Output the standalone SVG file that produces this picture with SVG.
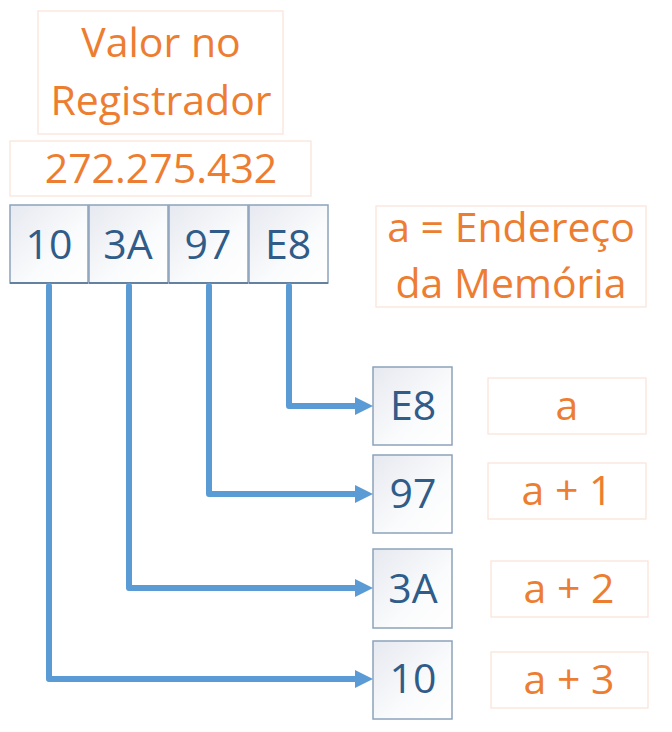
<svg xmlns="http://www.w3.org/2000/svg" width="672" height="732" viewBox="0 0 672 732">
<style>
.lbl{fill:#fff;stroke:#FBE3D6;stroke-width:1.2}
.ot{font-family:"Open Sans","Liberation Sans",sans-serif;font-size:41px;fill:#ED7D31;text-anchor:middle}
.cell{fill:url(#g);stroke:#8CA3BC;stroke-width:1.5}
.bt{font-family:"Open Sans","Liberation Sans",sans-serif;font-size:41px;fill:#2F5C88;text-anchor:middle}
.con{fill:none;stroke:#5B9BD5;stroke-width:6;stroke-linejoin:round;stroke-linecap:round;marker-end:url(#ah)}
</style>
<defs>
<linearGradient id="g" x1="0" y1="0" x2="1" y2="1">
<stop offset="0" stop-color="#E6E9F0"/>
<stop offset="0.6" stop-color="#FAFBFC"/>
<stop offset="1" stop-color="#FFFFFF"/>
</linearGradient>
<marker id="ah" markerWidth="18" markerHeight="18" refX="0" refY="9" orient="auto" markerUnits="userSpaceOnUse" viewBox="0 0 18 18">
<path d="M0 0L18 9L0 18Z" fill="#5B9BD5"/>
</marker>
</defs>
<rect width="672" height="732" fill="#fff"/>
<g id="valor">
<rect class="lbl" x="38" y="11" width="245" height="123"/>
<text class="ot" x="161" y="57">Valor no</text>
<text class="ot" x="161" y="115">Registrador</text>
</g>
<g id="numero">
<rect class="lbl" x="10" y="141" width="301" height="55"/>
<text class="ot" x="161" y="183" font-size="42">272.275.432</text>
</g>
<g id="endereco">
<rect class="lbl" x="376" y="206" width="270" height="101"/>
<text class="ot" x="511" y="242">a = Endereço</text>
<text class="ot" x="511" y="298">da Memória</text>
</g>
<g id="reg10"><rect class="cell" x="10" y="205" width="78" height="78"/><path d="M10 283H88" stroke="#4E6F90" stroke-width="1.5"/><text class="bt" x="49" y="259">10</text></g>
<g id="reg3A"><rect class="cell" x="89" y="205" width="79" height="78"/><path d="M89 283H168" stroke="#4E6F90" stroke-width="1.5"/><text class="bt" x="128" y="259">3A</text></g>
<g id="reg97"><rect class="cell" x="169" y="205" width="79" height="78"/><path d="M169 283H248" stroke="#4E6F90" stroke-width="1.5"/><text class="bt" x="208" y="259">97</text></g>
<g id="regE8"><rect class="cell" x="249" y="205" width="79" height="78"/><path d="M249 283H328" stroke="#4E6F90" stroke-width="1.5"/><text class="bt" x="288" y="259">E8</text></g>
<g id="memE8"><rect class="cell" x="373" y="367" width="79" height="78"/><text class="bt" x="413" y="420">E8</text></g>
<g id="mem97"><rect class="cell" x="373" y="455" width="79" height="78"/><text class="bt" x="413" y="508">97</text></g>
<g id="mem3A"><rect class="cell" x="373" y="549" width="79" height="79"/><text class="bt" x="413" y="603">3A</text></g>
<g id="mem10"><rect class="cell" x="373" y="641" width="79" height="78"/><text class="bt" x="413" y="693">10</text></g>
<g id="la"><rect class="lbl" x="488" y="378" width="158" height="56"/><text class="ot" x="567" y="420">a</text></g>
<g id="la1"><rect class="lbl" x="488" y="463" width="158" height="56"/><text class="ot" x="567" y="505">a + 1</text></g>
<g id="la2"><rect class="lbl" x="491" y="561" width="157" height="56"/><text class="ot" x="569" y="603">a + 2</text></g>
<g id="la3"><rect class="lbl" x="491" y="652" width="157" height="56"/><text class="ot" x="569" y="694">a + 3</text></g>
<g id="connectors">
<path class="con" d="M289 286V406H355"/>
<path class="con" d="M209 286V494H355"/>
<path class="con" d="M129 286V588H355"/>
<path class="con" d="M49 286V679H355"/>
</g>
</svg>
